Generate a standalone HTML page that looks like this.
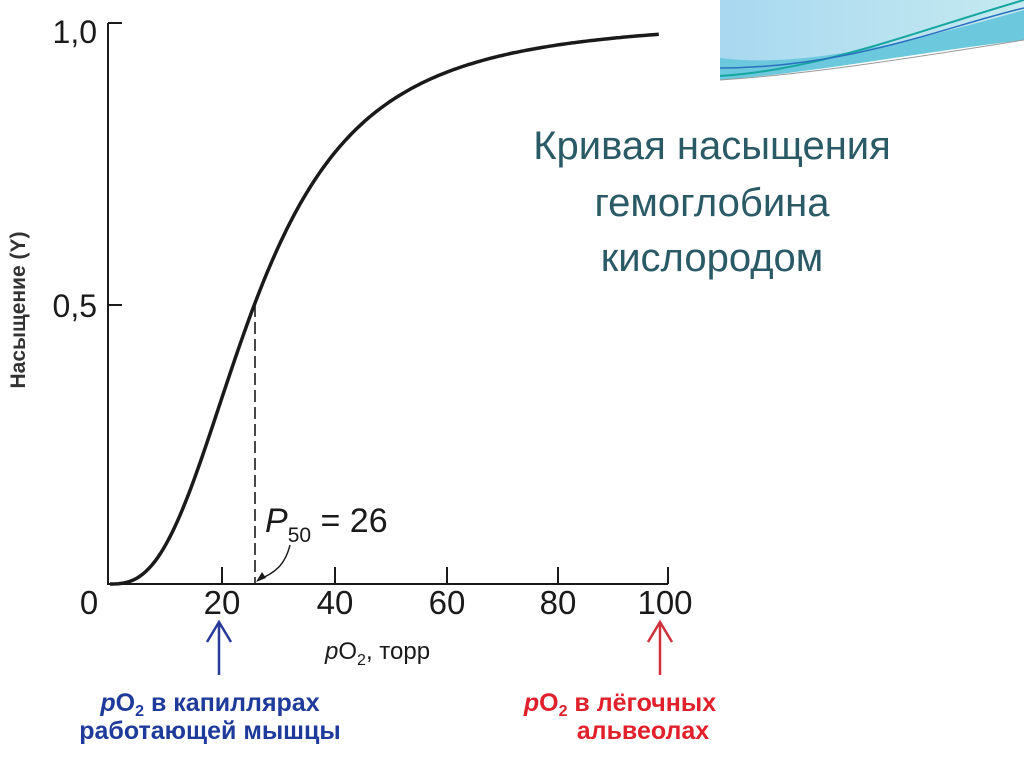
<!DOCTYPE html>
<html><head><meta charset="utf-8"><style>
html,body{margin:0;padding:0;background:#fff;}
body{width:1024px;height:767px;position:relative;overflow:hidden;font-family:"Liberation Sans",sans-serif;}
</style></head><body>
<svg width="1024" height="767" viewBox="0 0 1024 767" style="position:absolute;left:0;top:0">
<defs>
<linearGradient id="g1" x1="0" y1="0" x2="1" y2="0">
<stop offset="0" stop-color="#a8d8f0"/><stop offset="1" stop-color="#c5eaf0"/></linearGradient>
</defs>
<rect x="720" y="0" width="304" height="80" fill="url(#g1)"/>
<path d="M720,80 L720,58 C800,68 900,45 1024,10 L1024,40 C950,60 850,72 720,80 Z" fill="#6cc8dc"/>
<path d="M720,76 C820,70 920,30 1024,0" stroke="#16a6a0" stroke-width="2" fill="none"/>
<path d="M720,68 C850,68 950,25 1024,8" stroke="#2a70c0" stroke-width="1.5" fill="none"/>
<path d="M720,80 C820,72 920,52 1024,40 L1024,767 L720,767 Z" fill="#fff"/>
<path d="M720,80 C800,75 900,60 1024,40" stroke="#999" stroke-width="1" fill="none"/>
<g stroke="#1a1a1a" stroke-width="2" fill="none">
<path d="M108,23 L108,584 L668,584"/>
<path d="M108,23 L122,23 M108,305 L122,305"/>
<path d="M222,584 L222,567 M335,584 L335,567 M447,584 L447,567 M558,584 L558,567 M668,584 L668,567"/>
<path d="M255,305 L255,584" stroke-dasharray="12,5" stroke-width="1.6"/>
<path id="curve" stroke-width="3.5" d=""/>
<path d="M290,545 C285,565 275,573 258,580" stroke-width="1.5"/>
</g>
<path d="M256,582 L262,572 L266,578 Z" fill="#1a1a1a"/>
<g font-family="Liberation Sans, sans-serif" fill="#1a1a1a">
<text x="97" y="43" font-size="32" text-anchor="end">1,0</text>
<text x="97" y="317" font-size="32" text-anchor="end">0,5</text>
<text transform="translate(25,310) rotate(-90)" font-size="21" text-anchor="middle" font-weight="bold" fill="#333">Насыщение (Y)</text>
<text x="89" y="614" font-size="33" text-anchor="middle">0</text>
<text x="222" y="614" font-size="33" text-anchor="middle">20</text>
<text x="335" y="614" font-size="33" text-anchor="middle">40</text>
<text x="447" y="614" font-size="33" text-anchor="middle">60</text>
<text x="558" y="614" font-size="33" text-anchor="middle">80</text>
<text x="665" y="614" font-size="33" text-anchor="middle">100</text>
<text x="325" y="659" font-size="24"><tspan font-style="italic">p</tspan>O<tspan font-size="16" dy="6">2</tspan><tspan dy="-6">, торр</tspan></text>
<text x="265" y="532" font-size="34"><tspan font-style="italic">P</tspan><tspan font-size="21" dy="10">50</tspan><tspan dy="-10"> = 26</tspan></text>
</g>
<g stroke="#2a3a9a" stroke-width="2.5" fill="none"><path d="M219,675 L219,622 M207,642 L219,622 L231,642"/></g>
<g stroke="#d0303a" stroke-width="2.5" fill="none"><path d="M660,675 L660,622 M648,642 L660,622 L672,642"/></g>
<g font-family="Liberation Sans, sans-serif" font-weight="bold" font-size="25">
<text x="210" y="711" text-anchor="middle" fill="#1e3a9a"><tspan font-style="italic">р</tspan>O<tspan font-size="16" dy="5">2</tspan><tspan dy="-5"> в капиллярах</tspan></text>
<text x="210" y="739" text-anchor="middle" fill="#1e3a9a">работающей мышцы</text>
<text x="620" y="711" text-anchor="middle" fill="#e0202a"><tspan font-style="italic">р</tspan>O<tspan font-size="16" dy="5">2</tspan><tspan dy="-5"> в лёгочных</tspan></text>
<text x="643" y="739" text-anchor="middle" fill="#e0202a">альвеолах</text>
</g>
<g font-family="Liberation Sans, sans-serif" font-size="40" fill="#2a5a66" text-anchor="middle">
<text x="712" y="159">Кривая насыщения</text>
<text x="712" y="216">гемоглобина</text>
<text x="712" y="271">кислородом</text>
</g>
</svg>
<script>
var d="",n=2.7,P=26;
for(var x=0;x<=98;x+=0.5){var y=Math.pow(x/P,n);y=y/(1+y);
var px=110+x*5.6,py=584-y*565;d+=(x==0?"M":"L")+px.toFixed(1)+","+py.toFixed(1);}
document.getElementById("curve").setAttribute("d",d);
</script>
</body></html>
